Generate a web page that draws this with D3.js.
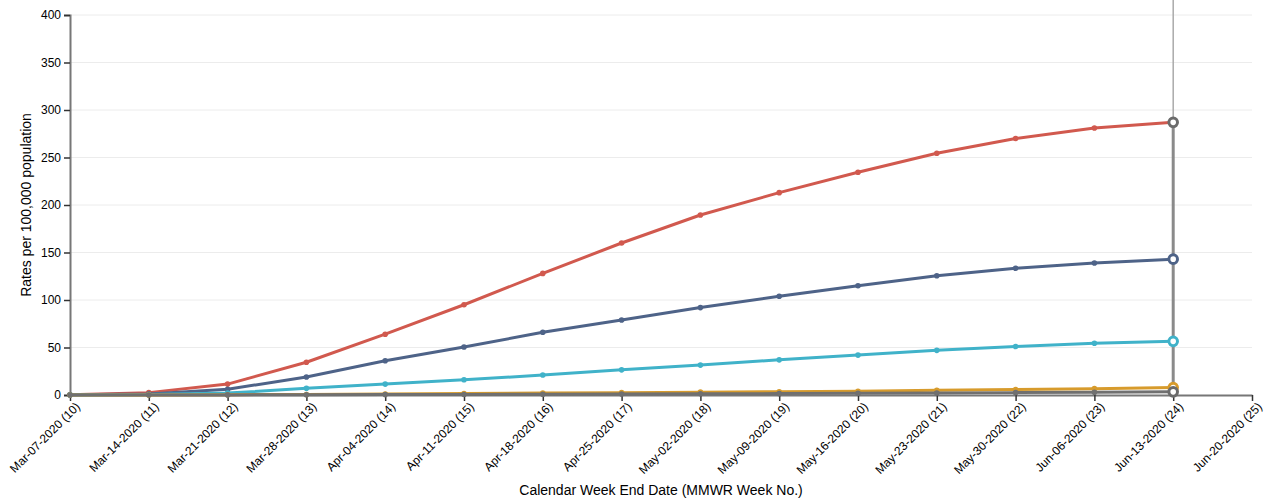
<!DOCTYPE html>
<html><head><meta charset="utf-8">
<script src="https://cdn.jsdelivr.net/npm/d3@7"></script>
<style>body{margin:0;background:#fff;font-family:"Liberation Sans",Arial,sans-serif;}</style>
</head><body><svg id="c" width="1272" height="500"></svg>
<script>
const weeks = ["Mar-07-2020 (10)","Mar-14-2020 (11)","Mar-21-2020 (12)","Mar-28-2020 (13)","Apr-04-2020 (14)","Apr-11-2020 (15)","Apr-18-2020 (16)","Apr-25-2020 (17)","May-02-2020 (18)","May-09-2020 (19)","May-16-2020 (20)","May-23-2020 (21)","May-30-2020 (22)","Jun-06-2020 (23)","Jun-13-2020 (24)","Jun-20-2020 (25)"];
const redVals    = [0.3, 2.5, 11.5, 34.5, 64, 95, 128, 160, 189.5, 213, 234.5, 254.5, 270, 281, 287];
const blueVals   = [0.2, 1, 6, 19, 36, 50.5, 66, 79, 92, 104, 115, 125.5, 133.5, 139, 143];
const cyanVals   = [0.1, 0.5, 2, 7, 11.5, 16, 21, 26.5, 31.5, 37, 42, 47, 51, 54.5, 56.5];
const orangeVals = [0, 0.1, 0.3, 0.6, 1, 1.5, 2, 2.5, 3, 3.5, 4, 5, 5.8, 6.7, 7.8];
const grayVals   = [0, 0, 0.1, 0.2, 0.4, 0.6, 0.8, 1, 1.2, 1.5, 1.8, 2.1, 2.5, 2.9, 3.3];
const yTicks = [0,50,100,150,200,250,300,350,400];
const series = [
  {name:"red", vals:redVals, color:"#d1594e", hover:"#6b6b6b"},
  {name:"blue", vals:blueVals, color:"#4e6388", hover:"#4e6388"},
  {name:"cyan", vals:cyanVals, color:"#40b2c9", hover:"#40b2c9"},
  {name:"orange", vals:orangeVals, color:"#d79b2c", hover:"#d79b2c"},
  {name:"gray", vals:grayVals, color:"#707070", hover:"#6b6b6b"}
];
const hoverIdx = 14;

const svg = d3.select("#c");
const m = {l:70, r:20, t:15, b:105};
const W = 1272, H = 500;
const x = d3.scalePoint().domain(weeks).range([m.l, W - m.r]);
const y = d3.scaleLinear().domain([0,400]).range([H - m.b, m.t]);

svg.append("g").selectAll("line").data(yTicks.filter(d=>d>0)).join("line")
  .attr("x1", m.l).attr("x2", W - m.r).attr("y1", d=>y(d)).attr("y2", d=>y(d))
  .attr("stroke", "#ececec").attr("stroke-width", 1);

const hx = x(weeks[hoverIdx]);
svg.append("line").attr("x1", hx).attr("x2", hx).attr("y1", 0).attr("y2", y(0))
  .attr("stroke", "#aaa").attr("stroke-width", 1.5);

const yAxis = svg.append("g").attr("transform", `translate(${m.l},0)`)
  .call(d3.axisLeft(y).tickValues(yTicks).tickSize(6).tickPadding(3));
yAxis.select(".domain").attr("stroke", "#777").attr("stroke-width", 2);
yAxis.selectAll(".tick line").attr("stroke", "#333").attr("stroke-width", 1.5);
yAxis.selectAll("text").attr("font-size", 12).attr("fill", "#000").attr("font-family", '"Liberation Sans",Arial,sans-serif');

const xAxis = svg.append("g").attr("transform", `translate(0,${y(0)})`)
  .call(d3.axisBottom(x).tickSize(6).tickSizeOuter(0));
xAxis.select(".domain").attr("stroke", "#777").attr("stroke-width", 2);
xAxis.selectAll(".tick line").attr("stroke", "#333").attr("stroke-width", 1.5);
xAxis.selectAll("text").attr("font-size", 12).attr("fill", "#000")
  .attr("font-family", '"Liberation Sans",Arial,sans-serif')
  .attr("text-anchor", "end").attr("dy", "0")
  .attr("transform", "translate(4,6) rotate(-45)");

const line = d3.line().x((d,i)=>x(weeks[i])).y(d=>y(d));
series.forEach(s => {
  svg.append("path").datum(s.vals).attr("d", line).attr("fill", "none")
    .attr("stroke", s.color).attr("stroke-width", 3).attr("stroke-linejoin", "round");
  svg.append("g").selectAll("circle").data(s.vals).join("circle")
    .attr("cx", (d,i)=>x(weeks[i])).attr("cy", d=>y(d)).attr("r", 2.8)
    .attr("fill", s.color);
});

svg.append("line").attr("x1", hx).attr("x2", hx)
  .attr("y1", y(redVals[hoverIdx])).attr("y2", y(0))
  .attr("stroke", "#8a8a8a").attr("stroke-width", 3);

series.forEach(s => {
  svg.append("circle").attr("cx", hx).attr("cy", y(s.vals[hoverIdx])).attr("r", 4.3)
    .attr("fill", "#fff").attr("stroke", s.hover).attr("stroke-width", 3);
});

svg.append("text").attr("x", 661).attr("y", 495).attr("text-anchor", "middle")
  .attr("font-size", 14).attr("fill", "#000").text("Calendar Week End Date (MMWR Week No.)");
svg.append("text").attr("transform", `translate(31,${(y(0)+y(400))/2}) rotate(-90)`)
  .attr("text-anchor", "middle").attr("font-size", 14).attr("fill", "#000")
  .text("Rates per 100,000 population");
</script></body></html>
